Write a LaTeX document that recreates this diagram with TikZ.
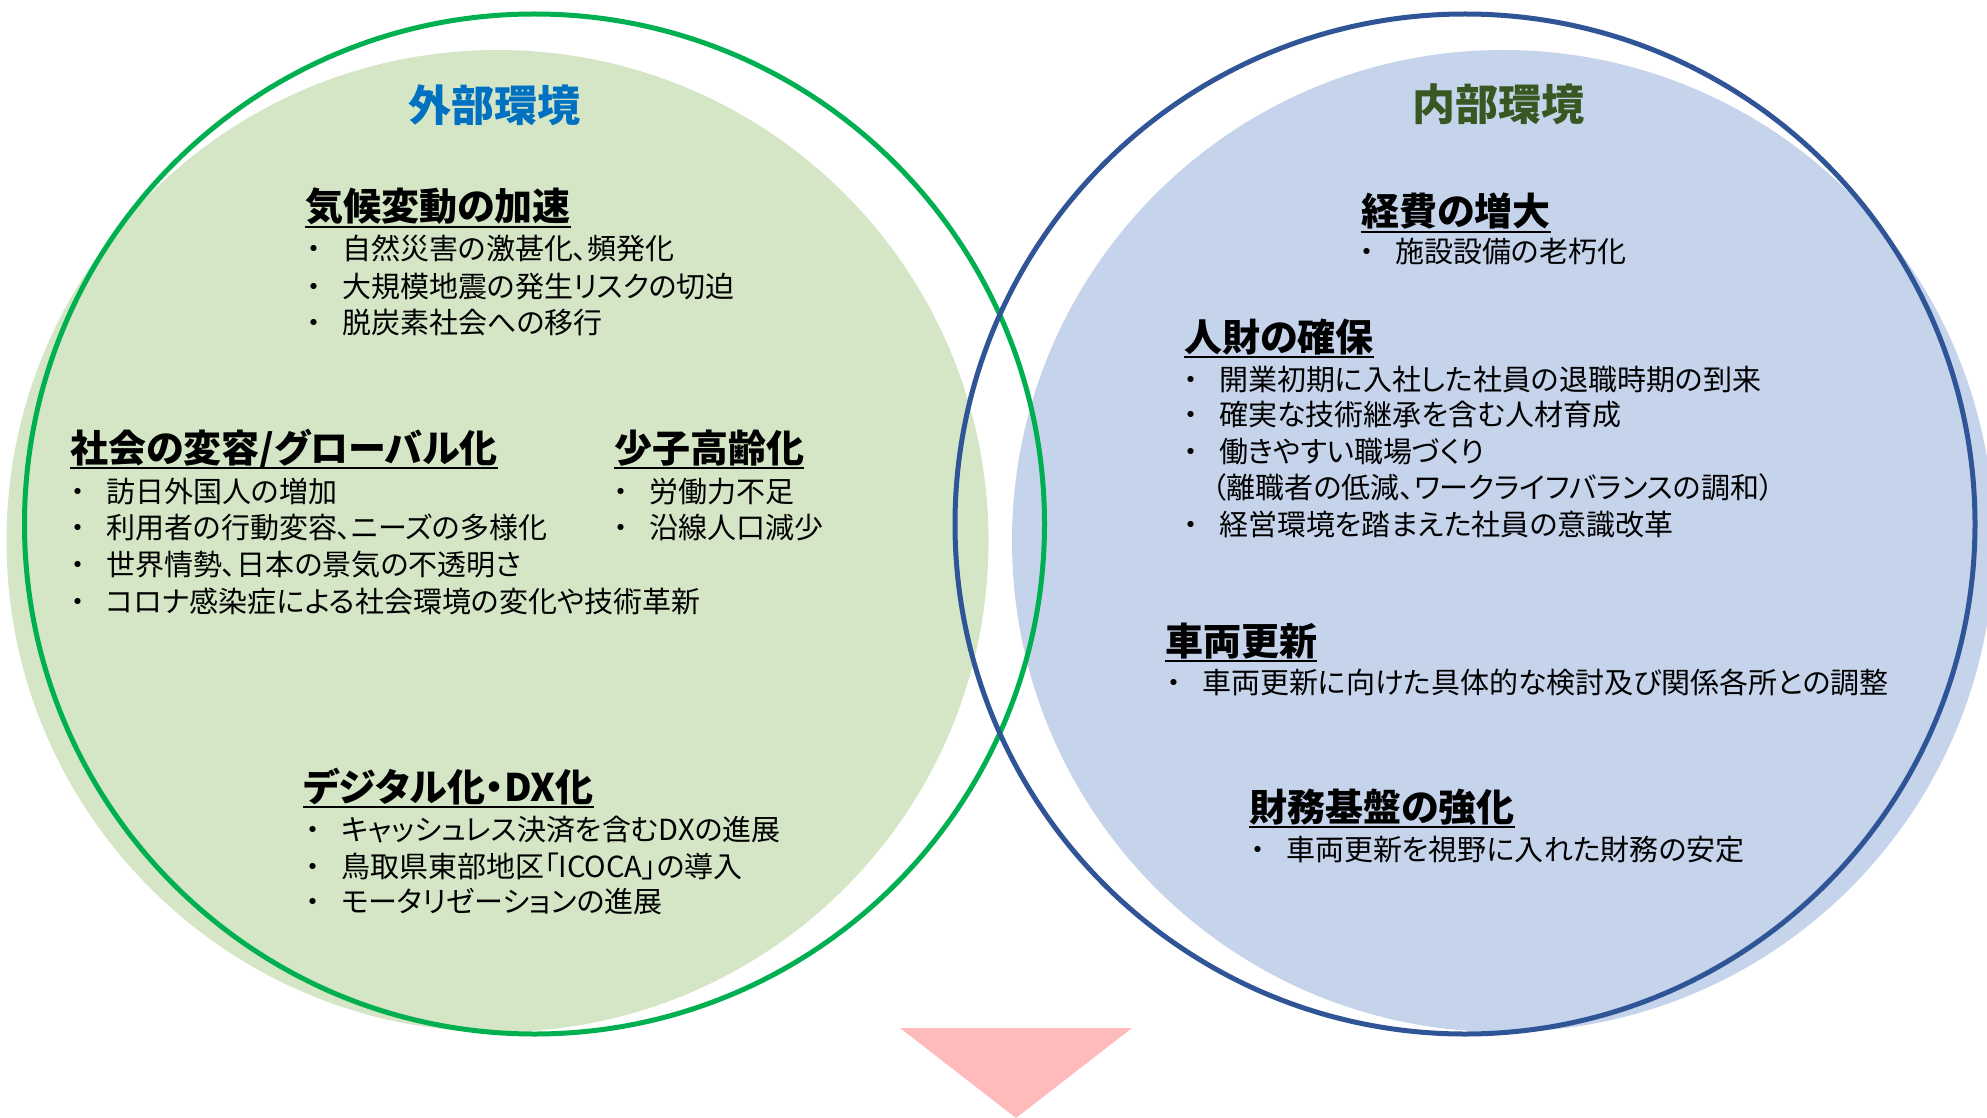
\documentclass[tikz,border=0pt]{standalone}
\usepackage{fontspec}
\setmainfont{Noto Sans CJK JP}[RawFeature=+palt]
\usetikzlibrary{calc}
\definecolor{gfill}{HTML}{D4E6C6}
\definecolor{bfill}{HTML}{C5D3EB}
\definecolor{gline}{HTML}{00B050}
\definecolor{bline}{HTML}{2F5597}
\definecolor{ttlblue}{HTML}{0070C0}
\definecolor{ttlgreen}{HTML}{385723}
\definecolor{arrowpink}{HTML}{FFBBBB}
\newcommand\bulletmark{\makebox[28pt][c]{・}\hspace{14pt}}
\begin{document}
\begin{tikzpicture}[x=1pt,y=-1pt,
  ttl/.style={inner sep=0pt, anchor=base, font=\fontsize{43}{48}\selectfont\bfseries},
  hd/.style={inner sep=0pt, anchor=base west, font=\fontsize{38}{44}\selectfont\bfseries},
  bt/.style={inner sep=0pt, anchor=base west, font=\fontsize{29}{34}\selectfont},
  ul/.style={line width=2.2pt, black},
  ring/.style={line width=5pt}]
\useasboundingbox (0,0) rectangle (1987,1118);
% filled discs
\fill[gfill] (497.5,541) circle[radius=491pt];
\fill[bfill] (1503,541) circle[radius=491pt];
% outline rings
\draw[ring, gline] (534.5,524) circle[radius=510pt];
\draw[ring, bline] (1465,524) circle[radius=510pt];
% arrow triangle
\fill[arrowpink] (900,1028) -- (1132,1028) -- (1016,1118) -- cycle;

% titles
\node[ttl, text=ttlblue] (t1) at (494,122) {外部環境};
\node[ttl, text=ttlgreen] (t2) at (1498,121) {内部環境};

% external: climate
\node[hd] (h1) at (305,221) {気候変動の加速};
\draw[ul] ($(h1.base west)+(0,6)$) -- ($(h1.base east)+(0,6)$);
\node[bt] (a1) at (300,260) {\bulletmark 自然災害の激甚化、頻発化};
\node[bt] (a2) at (300,297) {\bulletmark 大規模地震の発生リスクの切迫};
\node[bt] (a3) at (300,333) {\bulletmark 脱炭素社会への移行};

% external: society
\node[hd] (h2) at (70,462) {社会の変容/グローバル化};
\draw[ul] ($(h2.base west)+(0,6)$) -- ($(h2.base east)+(0,6)$);
\node[bt] (b1) at (64,502) {\bulletmark 訪日外国人の増加};
\node[bt] (b2) at (64,538) {\bulletmark 利用者の行動変容、ニーズの多様化};
\node[bt] (b3) at (64,575) {\bulletmark 世界情勢、日本の景気の不透明さ};
\node[bt] (b4) at (64,612) {\bulletmark コロナ感染症による社会環境の変化や技術革新};

% external: ageing
\node[hd] (h3) at (614,462) {少子高齢化};
\draw[ul] ($(h3.base west)+(0,6)$) -- ($(h3.base east)+(0,6)$);
\node[bt] (c1) at (607,502) {\bulletmark 労働力不足};
\node[bt] (c2) at (607,538) {\bulletmark 沿線人口減少};

% external: digital
\node[hd] (h4) at (303,801) {デジタル化・DX化};
\draw[ul] ($(h4.base west)+(0,6)$) -- ($(h4.base east)+(0,6)$);
\node[bt] (d1) at (299,840) {\bulletmark キャッシュレス決済を含むDXの進展};
\node[bt] (d2) at (299,877) {\bulletmark 鳥取県東部地区「ICOCA」の導入};
\node[bt] (d3) at (299,912) {\bulletmark モータリゼーションの進展};

% internal: costs
\node[hd] (h5) at (1361,226) {経費の増大};
\draw[ul] ($(h5.base west)+(0,6)$) -- ($(h5.base east)+(0,6)$);
\node[bt] (e1) at (1353,262) {\bulletmark 施設設備の老朽化};

% internal: people
\node[hd] (h6) at (1184,351) {人財の確保};
\draw[ul] ($(h6.base west)+(0,6)$) -- ($(h6.base east)+(0,6)$);
\node[bt] (f1) at (1177,390) {\bulletmark 開業初期に入社した社員の退職時期の到来};
\node[bt] (f2) at (1177,425) {\bulletmark 確実な技術継承を含む人材育成};
\node[bt] (f3) at (1177,462) {\bulletmark 働きやすい職場づくり};
\node[bt] (f4) at (1212,498) {（離職者の低減、ワークライフバランスの調和）};
\node[bt] (f5) at (1177,535) {\bulletmark 経営環境を踏まえた社員の意識改革};

% internal: vehicles
\node[hd] (h7) at (1165,655) {車両更新};
\draw[ul] ($(h7.base west)+(0,6)$) -- ($(h7.base east)+(0,6)$);
\node[bt] (g1) at (1160,693) {\bulletmark 車両更新に向けた具体的な検討及び関係各所との調整};

% internal: finance
\node[hd] (h8) at (1249,821) {財務基盤の強化};
\draw[ul] ($(h8.base west)+(0,6)$) -- ($(h8.base east)+(0,6)$);
\node[bt] (k1) at (1244,860) {\bulletmark 車両更新を視野に入れた財務の安定};
\end{tikzpicture}
\end{document}
